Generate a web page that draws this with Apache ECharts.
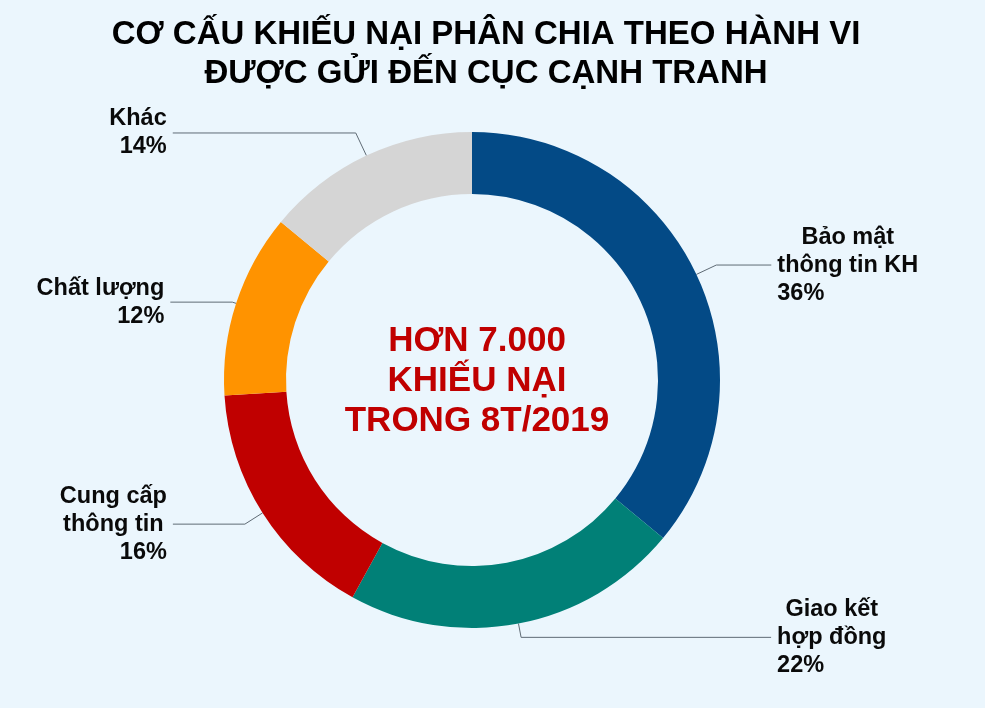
<!DOCTYPE html>
<html>
<head>
	<meta charset="UTF-8">
	<title>Cơ cấu khiếu nại</title>
	<style type="text/css">
		html, body {
			margin: 0;
			padding: 0;
			background: #EBF6FD;
		}
		#chart {
			width: 985px;
			height: 708px;
		}
	</style>
	<script type="text/javascript" src="https://cdn.jsdelivr.net/npm/echarts@6/dist/echarts.min.js"></script>
</head>
<body>
	<div id="chart"></div>
	<script>
		// du lieu
		var titleLines = ['CƠ CẤU KHIẾU NẠI PHÂN CHIA THEO HÀNH VI', 'ĐƯỢC GỬI ĐẾN CỤC CẠNH TRANH'];
		var centerLines = ['HƠN 7.000', 'KHIẾU NẠI', 'TRONG 8T/2019'];
		var names = ['Bảo mật thông tin KH', 'Giao kết hợp đồng', 'Cung cấp thông tin', 'Chất lượng', 'Khác'];
		var values = [36, 22, 16, 12, 14];
		var labelLines = [
			['Bảo mật', 'thông tin KH'],
			['Giao kết', 'hợp đồng'],
			['Cung cấp', 'thông tin'],
			['Chất lượng'],
			['Khác']
		];
		var colors = ['#034A86', '#018077', '#C00000', '#FF9300', '#D5D5D5'];

		// cach can chinh tung dong cua nhan (dong cuoi la %)
		var lineAlign = [
			['c', 'l', 'l'],
			['c', 'l', 'l'],
			['r', 'c', 'r'],
			['r', 'r'],
			['r', 'r']
		];
		// do dai duong dan nhan
		var lineLen = [[22, 55], [14, 250], [21, 72], [4, 62], [25, 183]];

		var chart = echarts.init(document.getElementById('chart'));
		var data = [];
		for (var i = 0; i < names.length; i++) {
			var parts = labelLines[i].concat([values[i] + '%']);
			var txt = [];
			for (var j = 0; j < parts.length; j++) {
				txt.push('{' + lineAlign[i][j] + '|' + parts[j] + '}');
			}
			data.push({
				name: names[i],
				value: values[i],
				itemStyle: { color: colors[i] },
				label: { formatter: txt.join('\n') },
				labelLine: { length: lineLen[i][0], length2: lineLen[i][1] }
			});
		}

		var labelFont = {
			fontFamily: 'Liberation Sans',
			fontWeight: 'bold',
			fontSize: 23.5,
			lineHeight: 28,
			color: '#0A0A0A'
		};

		var option = {
			backgroundColor: '#EBF6FD',
			animation: false,
			title: [
				{
					text: titleLines.join('\n'),
					left: 481,
					top: 10,
					textAlign: 'center',
					textStyle: {
						fontFamily: 'Liberation Sans',
						fontWeight: 'bold',
						fontSize: 33,
						lineHeight: 39,
						color: '#000'
					}
				},
				{
					text: centerLines.join('\n'),
					left: 472,
					top: 316,
					textAlign: 'center',
					textStyle: {
						fontFamily: 'Liberation Sans',
						fontWeight: 'bold',
						fontSize: 35,
						lineHeight: 40,
						color: '#C00000'
					}
				}
			],
			series: [
				{
					type: 'pie',
					center: [472, 380],
					radius: [186, 248],
					startAngle: 90,
					clockwise: true,
					avoidLabelOverlap: false,
					label: {
						show: true,
						position: 'outside',
						alignTo: 'none',
						distanceToLabelLine: 6,
						rich: {
							l: Object.assign({ align: 'left' }, labelFont),
							c: Object.assign({ align: 'center' }, labelFont),
							r: Object.assign({ align: 'right' }, labelFont)
						}
					},
					labelLine: {
						show: true,
						lineStyle: { color: '#5F6B75', width: 1 }
					},
					emphasis: { disabled: true },
					data: data
				}
			]
		};
		chart.setOption(option);
	</script>
</body>
</html>
